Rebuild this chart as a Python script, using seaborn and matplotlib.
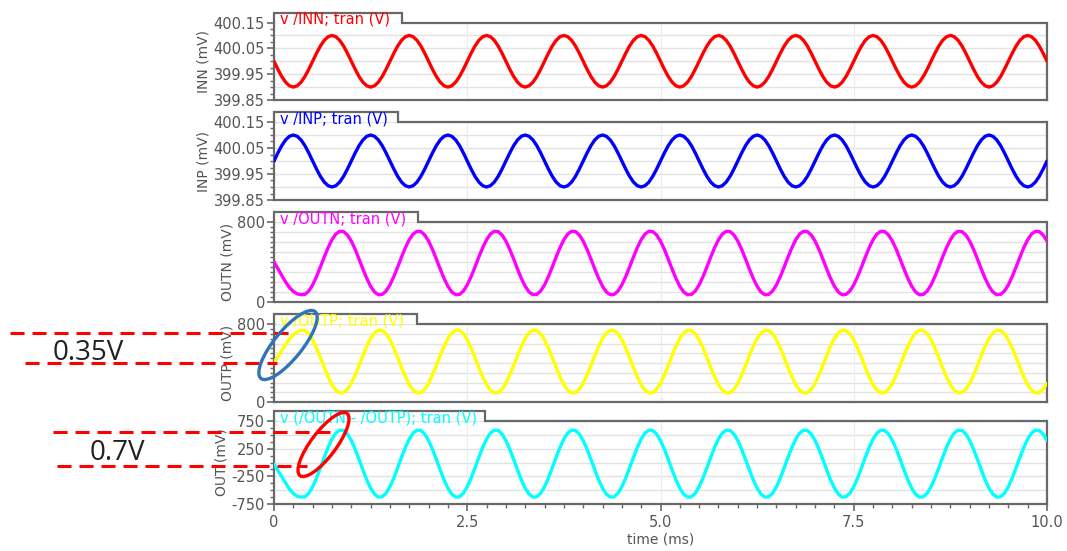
import numpy as np
import matplotlib
matplotlib.use("Agg")
import matplotlib.pyplot as plt
from matplotlib.lines import Line2D
from matplotlib.patches import Ellipse
from matplotlib.ticker import FixedLocator, MultipleLocator, FixedFormatter
from matplotlib.transforms import IdentityTransform
import seaborn as sns

time_ms = np.round(np.arange(201) * 0.05, 2)

inn_mv = [
    400.000, 399.969, 399.941, 399.919, 399.905, 399.900, 399.905, 399.919, 399.941, 399.969,
    400.000, 400.031, 400.059, 400.081, 400.095, 400.100, 400.095, 400.081, 400.059, 400.031,
    400.000, 399.969, 399.941, 399.919, 399.905, 399.900, 399.905, 399.919, 399.941, 399.969,
    400.000, 400.031, 400.059, 400.081, 400.095, 400.100, 400.095, 400.081, 400.059, 400.031,
    400.000, 399.969, 399.941, 399.919, 399.905, 399.900, 399.905, 399.919, 399.941, 399.969,
    400.000, 400.031, 400.059, 400.081, 400.095, 400.100, 400.095, 400.081, 400.059, 400.031,
    400.000, 399.969, 399.941, 399.919, 399.905, 399.900, 399.905, 399.919, 399.941, 399.969,
    400.000, 400.031, 400.059, 400.081, 400.095, 400.100, 400.095, 400.081, 400.059, 400.031,
    400.000, 399.969, 399.941, 399.919, 399.905, 399.900, 399.905, 399.919, 399.941, 399.969,
    400.000, 400.031, 400.059, 400.081, 400.095, 400.100, 400.095, 400.081, 400.059, 400.031,
    400.000, 399.969, 399.941, 399.919, 399.905, 399.900, 399.905, 399.919, 399.941, 399.969,
    400.000, 400.031, 400.059, 400.081, 400.095, 400.100, 400.095, 400.081, 400.059, 400.031,
    400.000, 399.969, 399.941, 399.919, 399.905, 399.900, 399.905, 399.919, 399.941, 399.969,
    400.000, 400.031, 400.059, 400.081, 400.095, 400.100, 400.095, 400.081, 400.059, 400.031,
    400.000, 399.969, 399.941, 399.919, 399.905, 399.900, 399.905, 399.919, 399.941, 399.969,
    400.000, 400.031, 400.059, 400.081, 400.095, 400.100, 400.095, 400.081, 400.059, 400.031,
    400.000, 399.969, 399.941, 399.919, 399.905, 399.900, 399.905, 399.919, 399.941, 399.969,
    400.000, 400.031, 400.059, 400.081, 400.095, 400.100, 400.095, 400.081, 400.059, 400.031,
    400.000, 399.969, 399.941, 399.919, 399.905, 399.900, 399.905, 399.919, 399.941, 399.969,
    400.000, 400.031, 400.059, 400.081, 400.095, 400.100, 400.095, 400.081, 400.059, 400.031,
    400.000,
]

inp_mv = [
    400.000, 400.031, 400.059, 400.081, 400.095, 400.100, 400.095, 400.081, 400.059, 400.031,
    400.000, 399.969, 399.941, 399.919, 399.905, 399.900, 399.905, 399.919, 399.941, 399.969,
    400.000, 400.031, 400.059, 400.081, 400.095, 400.100, 400.095, 400.081, 400.059, 400.031,
    400.000, 399.969, 399.941, 399.919, 399.905, 399.900, 399.905, 399.919, 399.941, 399.969,
    400.000, 400.031, 400.059, 400.081, 400.095, 400.100, 400.095, 400.081, 400.059, 400.031,
    400.000, 399.969, 399.941, 399.919, 399.905, 399.900, 399.905, 399.919, 399.941, 399.969,
    400.000, 400.031, 400.059, 400.081, 400.095, 400.100, 400.095, 400.081, 400.059, 400.031,
    400.000, 399.969, 399.941, 399.919, 399.905, 399.900, 399.905, 399.919, 399.941, 399.969,
    400.000, 400.031, 400.059, 400.081, 400.095, 400.100, 400.095, 400.081, 400.059, 400.031,
    400.000, 399.969, 399.941, 399.919, 399.905, 399.900, 399.905, 399.919, 399.941, 399.969,
    400.000, 400.031, 400.059, 400.081, 400.095, 400.100, 400.095, 400.081, 400.059, 400.031,
    400.000, 399.969, 399.941, 399.919, 399.905, 399.900, 399.905, 399.919, 399.941, 399.969,
    400.000, 400.031, 400.059, 400.081, 400.095, 400.100, 400.095, 400.081, 400.059, 400.031,
    400.000, 399.969, 399.941, 399.919, 399.905, 399.900, 399.905, 399.919, 399.941, 399.969,
    400.000, 400.031, 400.059, 400.081, 400.095, 400.100, 400.095, 400.081, 400.059, 400.031,
    400.000, 399.969, 399.941, 399.919, 399.905, 399.900, 399.905, 399.919, 399.941, 399.969,
    400.000, 400.031, 400.059, 400.081, 400.095, 400.100, 400.095, 400.081, 400.059, 400.031,
    400.000, 399.969, 399.941, 399.919, 399.905, 399.900, 399.905, 399.919, 399.941, 399.969,
    400.000, 400.031, 400.059, 400.081, 400.095, 400.100, 400.095, 400.081, 400.059, 400.031,
    400.000, 399.969, 399.941, 399.919, 399.905, 399.900, 399.905, 399.919, 399.941, 399.969,
    400.000,
]

outn_mv = [
    400, 335, 265, 200, 145, 105, 82, 73, 76, 110, 171, 254, 350, 450, 544, 623, 680, 707, 704, 670,
    609, 526, 430, 330, 236, 157, 100, 73, 76, 110, 171, 254, 350, 450, 544, 623, 680, 707, 704, 670,
    609, 526, 430, 330, 236, 157, 100, 73, 76, 110, 171, 254, 350, 450, 544, 623, 680, 707, 704, 670,
    609, 526, 430, 330, 236, 157, 100, 73, 76, 110, 171, 254, 350, 450, 544, 623, 680, 707, 704, 670,
    609, 526, 430, 330, 236, 157, 100, 73, 76, 110, 171, 254, 350, 450, 544, 623, 680, 707, 704, 670,
    609, 526, 430, 330, 236, 157, 100, 73, 76, 110, 171, 254, 350, 450, 544, 623, 680, 707, 704, 670,
    609, 526, 430, 330, 236, 157, 100, 73, 76, 110, 171, 254, 350, 450, 544, 623, 680, 707, 704, 670,
    609, 526, 430, 330, 236, 157, 100, 73, 76, 110, 171, 254, 350, 450, 544, 623, 680, 707, 704, 670,
    609, 526, 430, 330, 236, 157, 100, 73, 76, 110, 171, 254, 350, 450, 544, 623, 680, 707, 704, 670,
    609, 526, 430, 330, 236, 157, 100, 73, 76, 110, 171, 254, 350, 450, 544, 623, 680, 707, 704, 670,
    609,
]

outp_mv = [
    405, 465, 525, 590, 645, 690, 718, 737, 734, 700, 638, 553, 456, 354, 258, 178, 121, 93, 96, 130,
    192, 277, 374, 476, 572, 652, 709, 737, 734, 700, 638, 553, 456, 354, 258, 178, 121, 93, 96, 130,
    192, 277, 374, 476, 572, 652, 709, 737, 734, 700, 638, 553, 456, 354, 258, 178, 121, 93, 96, 130,
    192, 277, 374, 476, 572, 652, 709, 737, 734, 700, 638, 553, 456, 354, 258, 178, 121, 93, 96, 130,
    192, 277, 374, 476, 572, 652, 709, 737, 734, 700, 638, 553, 456, 354, 258, 178, 121, 93, 96, 130,
    192, 277, 374, 476, 572, 652, 709, 737, 734, 700, 638, 553, 456, 354, 258, 178, 121, 93, 96, 130,
    192, 277, 374, 476, 572, 652, 709, 737, 734, 700, 638, 553, 456, 354, 258, 178, 121, 93, 96, 130,
    192, 277, 374, 476, 572, 652, 709, 737, 734, 700, 638, 553, 456, 354, 258, 178, 121, 93, 96, 130,
    192, 277, 374, 476, 572, 652, 709, 737, 734, 700, 638, 553, 456, 354, 258, 178, 121, 93, 96, 130,
    192, 277, 374, 476, 572, 652, 709, 737, 734, 700, 638, 553, 456, 354, 258, 178, 121, 93, 96, 130,
    192,
]

out_mv = [
    -30, -145, -255, -370, -480, -560, -610, -625, -619, -554, -438, -280, -96, 94, 274, 425, 532, 585, 579, 514,
    398, 240, 56, -134, -314, -465, -572, -625, -619, -554, -438, -280, -96, 94, 274, 425, 532, 585, 579, 514,
    398, 240, 56, -134, -314, -465, -572, -625, -619, -554, -438, -280, -96, 94, 274, 425, 532, 585, 579, 514,
    398, 240, 56, -134, -314, -465, -572, -625, -619, -554, -438, -280, -96, 94, 274, 425, 532, 585, 579, 514,
    398, 240, 56, -134, -314, -465, -572, -625, -619, -554, -438, -280, -96, 94, 274, 425, 532, 585, 579, 514,
    398, 240, 56, -134, -314, -465, -572, -625, -619, -554, -438, -280, -96, 94, 274, 425, 532, 585, 579, 514,
    398, 240, 56, -134, -314, -465, -572, -625, -619, -554, -438, -280, -96, 94, 274, 425, 532, 585, 579, 514,
    398, 240, 56, -134, -314, -465, -572, -625, -619, -554, -438, -280, -96, 94, 274, 425, 532, 585, 579, 514,
    398, 240, 56, -134, -314, -465, -572, -625, -619, -554, -438, -280, -96, 94, 274, 425, 532, 585, 579, 514,
    398, 240, 56, -134, -314, -465, -572, -625, -619, -554, -438, -280, -96, 94, 274, 425, 532, 585, 579, 514,
    398,
]

signal_names = ["INN", "INP", "OUTN", "OUTP", "OUT"]
trace_titles = ["v /INN; tran (V)", "v /INP; tran (V)", "v /OUTN; tran (V)",
                "v /OUTP; tran (V)", "v (/OUTN - /OUTP); tran (V)"]
y_tick_values = [[399.85, 399.95, 400.05, 400.15],
                 [399.85, 399.95, 400.05, 400.15],
                 [0, 800], [0, 800], [-750, -250, 250, 750]]
y_tick_labels = [["399.85", "399.95", "400.05", "400.15"],
                 ["399.85", "399.95", "400.05", "400.15"],
                 ["0", "800"], ["0", "800"], ["-750", "-250", "250", "750"]]
x_tick_values = [0, 2.5, 5.0, 7.5, 10.0]
x_tick_labels = ["0", "2.5", "5.0", "7.5", "10.0"]

series = [inn_mv, inp_mv, outn_mv, outp_mv, out_mv]

# ---------------- styling / layout ----------------
colors = ["#ff0000", "#0000ff", "#ff00ff", "#ffff00", "#00ffff"]
grid_step = [0.05, 0.05, 100, 100, 250]
minor_step = [0.025, 0.025, 50, 50, 125]
ax_top_px = [22.5, 122, 222, 324, 421]
ax_bot_px = [100, 200, 302, 402, 504]
tab_right_px = [402, 398, 418, 417, 485]

sns.set_style("white")
plt.rcParams["font.family"] = ["DejaVu Sans"]

W, H = 1067, 551
L, R = 274, 1047
fig = plt.figure(figsize=(W / 100, H / 100), dpi=100)


def fx(x):
    return x / W


def fy(y):
    return 1 - y / H


frame_col = "#686868"
text_col = "#555555"

for i, vals in enumerate(series):
    top, bot = ax_top_px[i], ax_bot_px[i]
    ax = fig.add_axes([fx(L), fy(bot), fx(R) - fx(L), (bot - top) / H])
    lo, hi = y_tick_values[i][0], y_tick_values[i][-1]
    for g in np.arange(lo, hi + 1e-9, grid_step[i]):
        ax.axhline(g, color="#e2e2e2", lw=1.0, zorder=0)
    for v in x_tick_values[1:-1]:
        ax.axvline(v, color="#ececec", lw=0.8, zorder=0)
    sns.lineplot(x=time_ms, y=vals, ax=ax, color=colors[i], linewidth=2.4,
                 estimator=None, sort=False, legend=False, zorder=3)
    ax.set_xlim(0, 10)
    ax.set_ylim(lo, hi)
    ax.yaxis.set_major_locator(FixedLocator(y_tick_values[i]))
    ax.yaxis.set_major_formatter(FixedFormatter(y_tick_labels[i]))
    ax.yaxis.set_minor_locator(MultipleLocator(minor_step[i]))
    ax.tick_params(axis="y", which="major", direction="out", length=5, width=1.2,
                   color=frame_col, labelsize=10.5, labelcolor=text_col, pad=1.5, left=True)
    ax.tick_params(axis="y", which="minor", direction="out", length=3, width=1.0,
                   color=frame_col, left=True)
    ax.set_ylabel(f"{signal_names[i]} (mV)", fontsize=10, color=text_col, labelpad=2)
    for s in ["left", "right", "bottom"]:
        ax.spines[s].set_color(frame_col)
        ax.spines[s].set_linewidth(1.6)
    ax.spines["top"].set_visible(False)
    if i < len(series) - 1:
        ax.tick_params(axis="x", which="both", bottom=False, labelbottom=False)
        ax.set_xlabel("")
    else:
        ax.xaxis.set_major_locator(FixedLocator(x_tick_values))
        ax.xaxis.set_major_formatter(FixedFormatter(x_tick_labels))
        ax.xaxis.set_minor_locator(MultipleLocator(0.25))
        ax.tick_params(axis="x", which="major", direction="out", length=5, width=1.2,
                       color=frame_col, labelsize=10.5, labelcolor=text_col, pad=3, bottom=True)
        ax.tick_params(axis="x", which="minor", direction="out", length=3, width=1.0,
                       color=frame_col, bottom=True)
        ax.set_xlabel("time (ms)", fontsize=10, color=text_col, labelpad=2)
    # tab-shaped top border with the trace title
    tab_top = top - 10
    xs = [L, L, tab_right_px[i], tab_right_px[i], R]
    ys = [top, tab_top, tab_top, top, top]
    fig.add_artist(Line2D([fx(x) for x in xs], [fy(y) for y in ys], transform=fig.transFigure,
                          color=frame_col, lw=1.6, solid_joinstyle="miter", zorder=5))
    fig.text(fx(280), fy(top - 3), trace_titles[i], color=colors[i], fontsize=10.5,
             ha="left", va="center", zorder=6)

# ---------------- hand-drawn annotations ----------------
dash = (0, (4.6, 2.6))


def dashed(y, x0, x1):
    fig.add_artist(Line2D([fx(x0), fx(x1)], [fy(y), fy(y)], transform=fig.transFigure,
                          color="#ff0000", lw=2.2, linestyle=dash, zorder=10))


dashed(333, 10, 293)
dashed(363, 25, 277)
dashed(432, 53, 330)
dashed(466, 57, 307)

fig.add_artist(Ellipse((288, H - 345), 86, 28, angle=51, transform=IdentityTransform(),
                       fill=False, edgecolor="#2e75b6", lw=2.4, zorder=11))
fig.add_artist(Ellipse((323.5, H - 444.5), 78, 25, angle=53, transform=IdentityTransform(),
                       fill=False, edgecolor="#ff0000", lw=2.4, zorder=11))

fig.text(fx(88), fy(353), "0.35V", fontsize=20, family="Open Sans", color="#222222",
         ha="center", va="center", zorder=12)
fig.text(fx(117), fy(453), "0.7V", fontsize=20, family="Open Sans", color="#222222",
         ha="center", va="center", zorder=12)

fig.savefig("out.png", dpi=100)
